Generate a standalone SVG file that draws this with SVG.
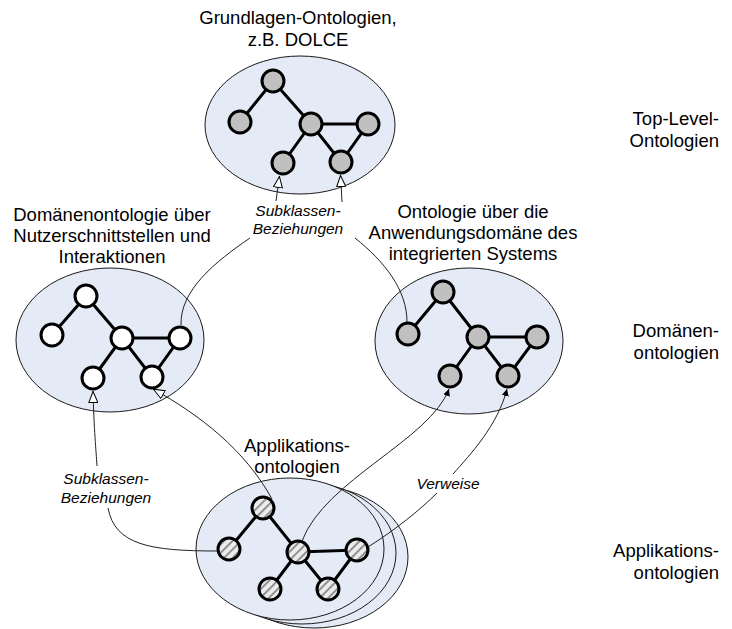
<svg xmlns="http://www.w3.org/2000/svg" width="732" height="629" viewBox="0 0 732 629">
<defs>
<style>
.bg{fill:#fff}
.ell{fill:#e4eaf6;stroke:#1a1a1a;stroke-width:1}
.edge{stroke:#000;stroke-width:3;fill:none}
.n{stroke:#000;stroke-width:3}
.gray{fill:#c0c0c0}
.white{fill:#fff}
.hatch{fill:url(#hatch)}
.t{font-family:"Liberation Sans",Arial,sans-serif;font-size:18.5px;fill:#000}
.ti{font-family:"Liberation Sans",Arial,sans-serif;font-size:15.5px;font-style:italic;fill:#000}
.c{stroke:#222;stroke-width:1;fill:none}
</style>
<pattern id="hatch" width="6" height="6" patternUnits="userSpaceOnUse" patternTransform="rotate(45)">
<rect width="6" height="6" fill="#ececec"/>
<rect width="1.8" height="6" fill="#888"/>
</pattern>
<marker id="tri" viewBox="0 0 12 10" refX="12" refY="5" markerWidth="12" markerHeight="10" orient="auto" markerUnits="userSpaceOnUse">
<path d="M0.5,0.5 L11.5,5 L0.5,9.5 Z" fill="#fff" stroke="#000" stroke-width="1"/>
</marker>
<marker id="arr" viewBox="0 0 8 8" refX="8" refY="4" markerWidth="7" markerHeight="7" orient="auto" markerUnits="userSpaceOnUse">
<path d="M0,0 L8,4 L0,8 Z" fill="#000"/>
</marker>
</defs>
<rect class="bg" x="0" y="0" width="732" height="629"/>

<g id="labels-right">
<text class="t" x="719" y="125" text-anchor="end">Top-Level-</text>
<text class="t" x="719" y="147" text-anchor="end">Ontologien</text>
<text class="t" x="719" y="337" text-anchor="end">Domänen-</text>
<text class="t" x="719" y="359" text-anchor="end">ontologien</text>
<text class="t" x="719" y="557" text-anchor="end">Applikations-</text>
<text class="t" x="719" y="579" text-anchor="end">ontologien</text>
</g>

<g id="top-ontology">
<text class="t" x="298" y="24" text-anchor="middle">Grundlagen-Ontologien,</text>
<text class="t" x="298" y="46" text-anchor="middle">z.B. DOLCE</text>
<ellipse class="ell" cx="300" cy="125" rx="95" ry="69"/>
<path class="edge" d="M273 81 L240 122 M273 81 L311 124 L368 124 L341 162 L311 124 L283 163"/>
<circle class="n gray" cx="273" cy="81" r="11"/>
<circle class="n gray" cx="240" cy="122" r="11"/>
<circle class="n gray" cx="311" cy="124" r="11"/>
<circle class="n gray" cx="368" cy="124" r="11"/>
<circle class="n gray" cx="283" cy="163" r="11"/>
<circle class="n gray" cx="341" cy="162" r="11"/>
</g>

<g id="ui-domain-ontology">
<text class="t" x="112" y="221" text-anchor="middle">Domänenontologie über</text>
<text class="t" x="112" y="242" text-anchor="middle">Nutzerschnittstellen und</text>
<text class="t" x="112" y="263" text-anchor="middle">Interaktionen</text>
<ellipse class="ell" cx="110" cy="340" rx="94" ry="72"/>
<path class="edge" d="M86 296 L52 335 M86 296 L122 338 L180 338 L152 377 L122 338 L93 378"/>
<circle class="n white" cx="86" cy="296" r="11"/>
<circle class="n white" cx="52" cy="335" r="11"/>
<circle class="n white" cx="122" cy="338" r="11"/>
<circle class="n white" cx="180" cy="338" r="11"/>
<circle class="n white" cx="93" cy="378" r="11"/>
<circle class="n white" cx="152" cy="377" r="11"/>
</g>

<g id="app-domain-ontology">
<text class="t" x="473" y="218" text-anchor="middle">Ontologie über die</text>
<text class="t" x="473" y="239" text-anchor="middle">Anwendungsdomäne des</text>
<text class="t" x="473" y="260" text-anchor="middle">integrierten Systems</text>
<ellipse class="ell" cx="469" cy="341" rx="94" ry="73"/>
<path class="edge" d="M443 292 L408 334 M443 292 L478 337 L537 337 L508 376 L478 337 L450 376"/>
<circle class="n gray" cx="443" cy="292" r="11"/>
<circle class="n gray" cx="408" cy="334" r="11"/>
<circle class="n gray" cx="478" cy="337" r="11"/>
<circle class="n gray" cx="537" cy="337" r="11"/>
<circle class="n gray" cx="450" cy="376" r="11"/>
<circle class="n gray" cx="508" cy="376" r="11"/>
</g>

<g id="application-ontologies">
<text class="t" x="297" y="452" text-anchor="middle">Applikations-</text>
<text class="t" x="297" y="473" text-anchor="middle">ontologien</text>
<ellipse class="ell" cx="314" cy="557" rx="94" ry="71"/>
<ellipse class="ell" cx="302" cy="553" rx="94" ry="71"/>
<ellipse class="ell" cx="290" cy="549" rx="94" ry="71"/>
<path class="edge" d="M263 508 L229 549 M263 508 L298 552 L357 550 L328 589 L298 552 L270 589"/>
<circle class="n hatch" cx="263" cy="508" r="11"/>
<circle class="n hatch" cx="229" cy="549" r="11"/>
<circle class="n hatch" cx="298" cy="552" r="11"/>
<circle class="n hatch" cx="357" cy="550" r="11"/>
<circle class="n hatch" cx="270" cy="589" r="11"/>
<circle class="n hatch" cx="328" cy="589" r="11"/>
</g>

<g id="connectors">
<path class="c" d="M276 201 L279.5 176" marker-end="url(#tri)"/>
<path class="c" d="M342 202 L340.5 175" marker-end="url(#tri)"/>
<text class="ti" x="298" y="216" text-anchor="middle">Subklassen-</text>
<text class="ti" x="298" y="234" text-anchor="middle">Beziehungen</text>
<path class="c" d="M250 238 C215 262 180 290 181 325"/>
<path class="c" d="M355 238 C385 262 407 290 407 322"/>

<path class="c" d="M97 466 C96 450 94 430 93 391" marker-end="url(#tri)"/>
<text class="ti" x="106" y="484" text-anchor="middle">Subklassen-</text>
<text class="ti" x="106" y="503" text-anchor="middle">Beziehungen</text>
<path class="c" d="M108 508 C115 545 150 551 217 551"/>

<path class="c" d="M272 499 C245 450 200 415 153 389" marker-end="url(#tri)"/>

<path class="c" d="M302 541 C325 480 430 440 449 389" marker-end="url(#arr)"/>

<path class="c" d="M368 547 C395 530 420 510 437 493"/>
<text class="ti" x="448" y="489" text-anchor="middle">Verweise</text>
<path class="c" d="M453 474 C470 455 498 425 507 389" marker-end="url(#arr)"/>
</g>
</svg>
